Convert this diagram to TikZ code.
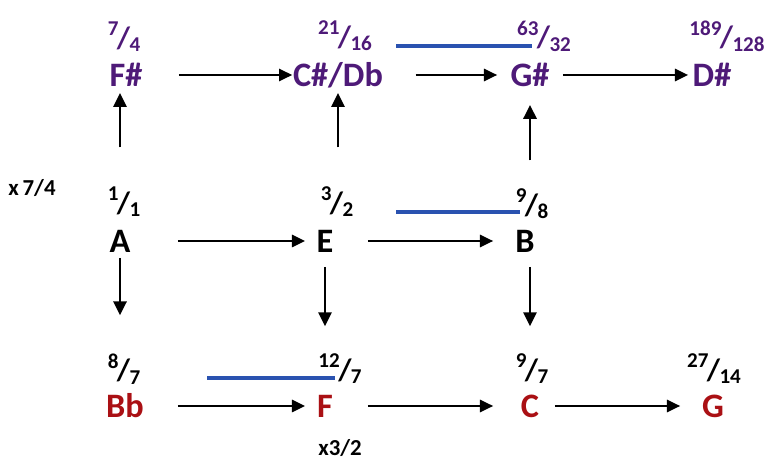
\documentclass[tikz,border=0pt]{standalone}
\usepackage{fontspec}
\setmainfont{Carlito}
\usetikzlibrary{arrows.meta}
\definecolor{notepurple}{RGB}{78,26,120}
\definecolor{notered}{RGB}{170,16,20}
\definecolor{lineblue}{RGB}{42,82,176}
\newcommand\fr[2]{{\fontsize{17.5}{17.5}\selectfont\raisebox{0.40em}{\fontsize{12}{12}\selectfont #1}\kern-0.05em/\kern-0.02em\raisebox{-0.12em}{\fontsize{12}{12}\selectfont #2}}}
\begin{document}
\begin{tikzpicture}[x=0.02cm,y=-0.02cm,
  note/.style={inner sep=0pt,font=\fontsize{19.5}{19.5}\selectfont\bfseries},
  frac/.style={inner sep=0pt,font=\bfseries},
  lbl/.style={inner sep=0pt,font=\fontsize{13}{13}\selectfont\bfseries},
  harr/.style={-{Triangle[length=7.5pt,width=7pt]},line width=1.1pt},
  varr/.style={-{Triangle[length=8pt,width=7.5pt]},line width=1.5pt},
  sh/.style 2 args={shorten <=#1*0.5669pt,shorten >=#2*0.5669pt},
  blueline/.style={lineblue,line width=2.3pt}]
\useasboundingbox (0,0) rectangle (768,462);
% top row
\node[note,text=notepurple] (Fs) at (126,75) {F\#};
\node[note,text=notepurple] (Cs) at (338,75) {C\#/Db};
\node[note,text=notepurple] (Gs) at (530,75) {G\#};
\node[note,text=notepurple] (Ds) at (712,75) {D\#};
\node[frac,text=notepurple] (f74) at (124,37) {\fr{7}{4}};
\node[frac,text=notepurple] (f2116) at (345,36) {\fr{21}{16}};
\node[frac,text=notepurple] (f6332) at (544,36) {\fr{63}{32}};
\node[frac,text=notepurple] (f189) at (727,36) {\fr{189}{128}};
% middle row
\node[note] (A) at (120,241) {A};
\node[note] (E) at (325,241) {E};
\node[note] (B) at (525,241) {B};
\node[frac] (f11) at (124,202) {\fr{1}{1}};
\node[frac] (f32) at (337,202) {\fr{3}{2}};
\node[frac] (f98) at (532,204) {\fr{9}{8}};
\node[lbl] (x74) at (32,188) {x\,7/4};
% bottom row
\node[note,text=notered] (Bb) at (125,406) {Bb};
\node[note,text=notered] (F) at (325,406) {F};
\node[note,text=notered] (C) at (530,406) {C};
\node[note,text=notered] (G) at (713,406) {G};
\node[frac] (f87) at (124,369) {\fr{8}{7}};
\node[frac] (f127) at (340,369) {\fr{12}{7}};
\node[frac] (f97) at (532,369) {\fr{9}{7}};
\node[frac] (f2714) at (714,369) {\fr{27}{14}};
\node[lbl] (x32) at (340,448) {x3/2};
% blue lines
\draw[blueline] (396,46) -- (532,46);
\draw[blueline] (396,212) -- (520,212);
\draw[blueline] (207,378) -- (335,378);
% horizontal arrows
\draw[harr,sh={53}{46}] (Fs.center) -- (Cs.center);
\draw[harr,sh={78}{33}] (Cs.center) -- (Gs.center);
\draw[harr,sh={33}{24}] (Gs.center) -- (Ds.center);
\draw[harr,sh={58}{20}] (A.center) -- (E.center);
\draw[harr,sh={43}{32}] (E.center) -- (B.center);
\draw[harr,sh={53}{20}] (Bb.center) -- (F.center);
\draw[harr,sh={43}{37}] (F.center) -- (C.center);
\draw[harr,sh={25}{33}] (C.center) -- (G.center);
% vertical arrows
\draw[varr,sh={94}{18}] (A.center) -- (A.center |- Fs.center);
\draw[varr,sh={94}{18}] (Cs.center |- E.center) -- (Cs.center);
\draw[varr,sh={81}{30}] (Gs.center |- B.center) -- (Gs.center);
\draw[varr,sh={17}{91}] (A.center) -- (A.center |- Bb.center);
\draw[varr,sh={26}{80}] (E.center) -- (E.center |- F.center);
\draw[varr,sh={26}{80}] (C.center |- B.center) -- (C.center);
\end{tikzpicture}
\end{document}
